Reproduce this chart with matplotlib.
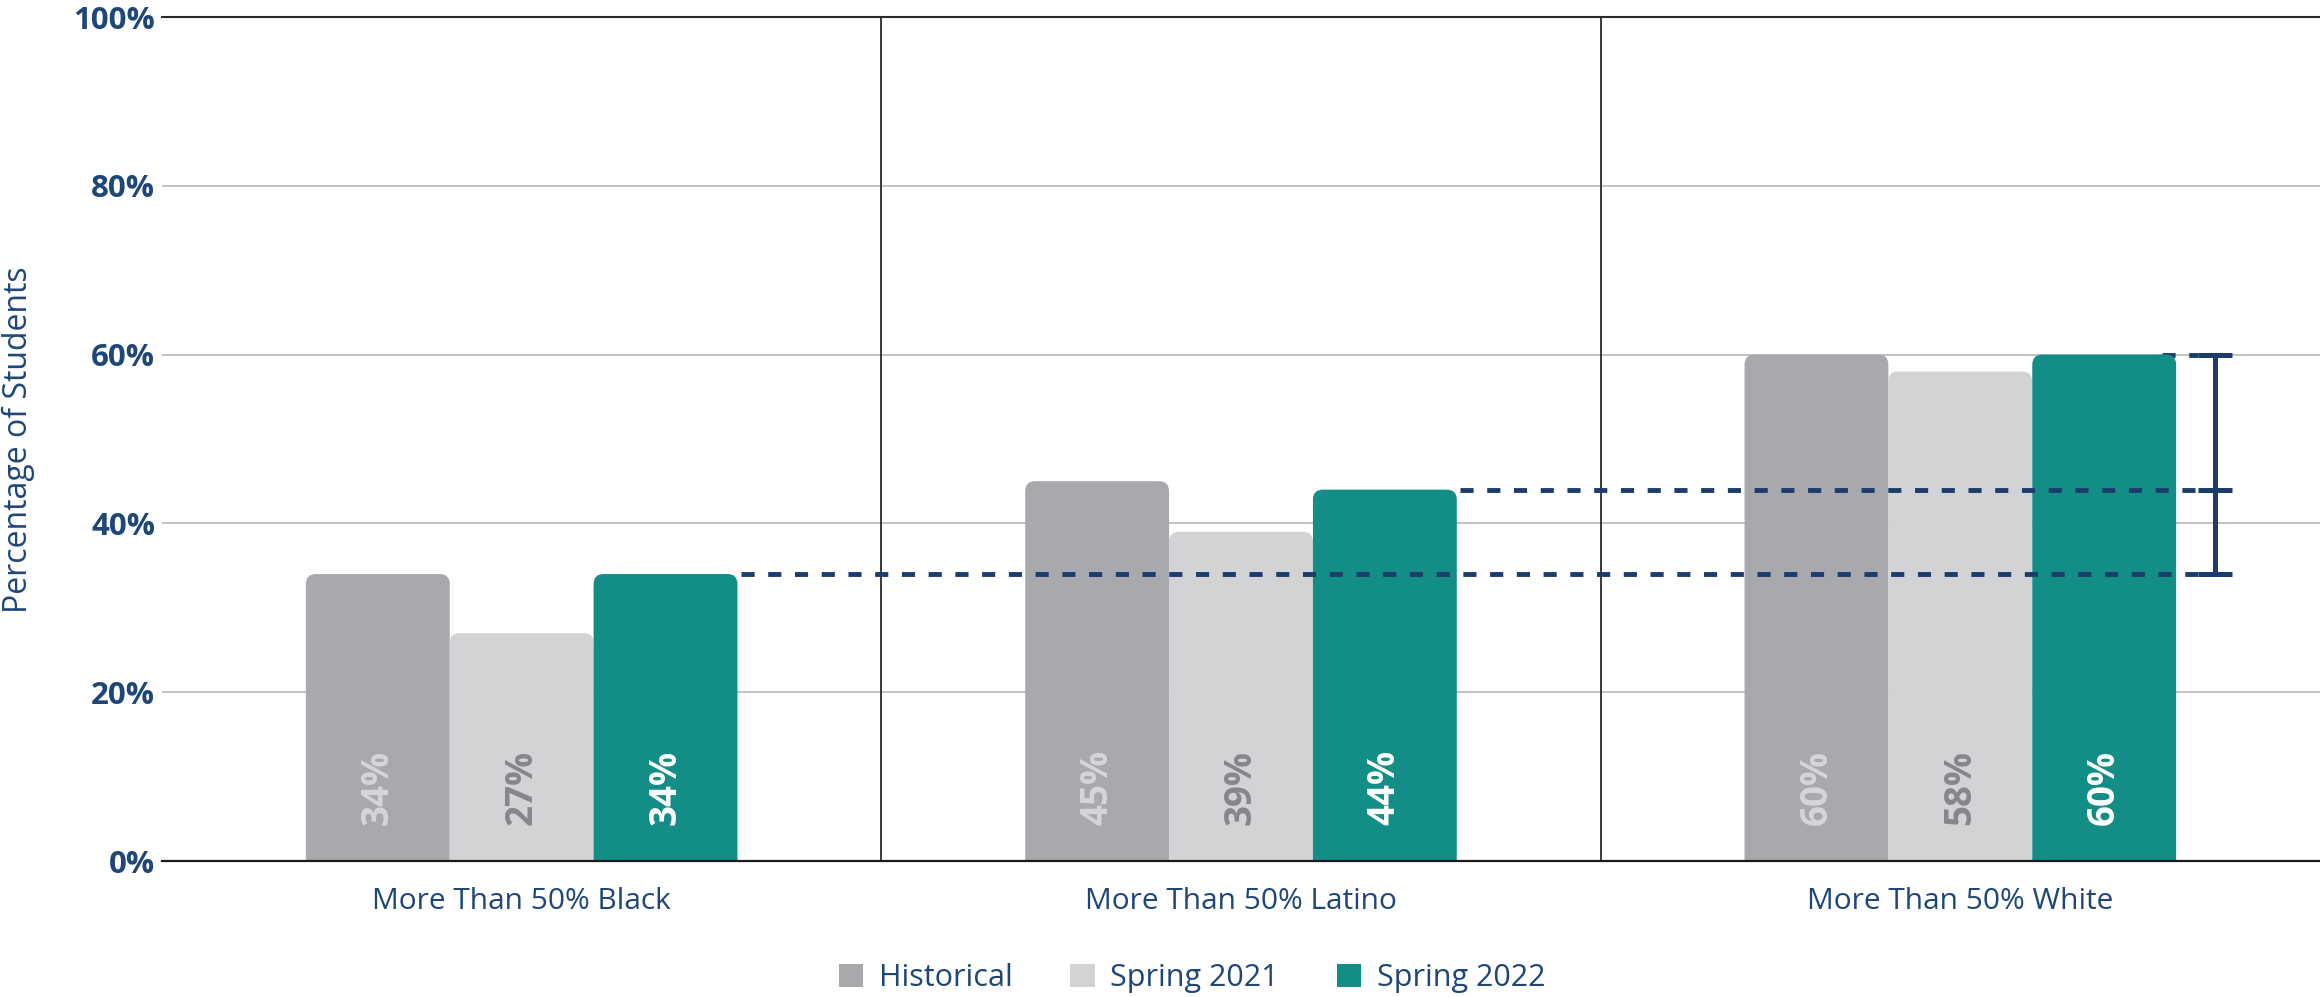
import matplotlib
matplotlib.use("Agg")
import matplotlib.pyplot as plt
from matplotlib.patches import FancyBboxPatch, Patch

plt.rcParams['font.family'] = ['Open Sans', 'DejaVu Sans']

categories = ["More Than 50% Black", "More Than 50% Latino", "More Than 50% White"]
series = ["Historical", "Spring 2021", "Spring 2022"]
historical = [34, 45, 60]
spring_2021 = [27, 39, 58]
spring_2022 = [34, 44, 60]
yticks = [0, 20, 40, 60, 80, 100]

colors = ["#A7A9AC", "#D1D3D4", "#128E87"]
label_colors = ["#D5D6D8", "#85878A", "#FFFFFF"]
navy = "#1E4677"
dash_navy = "#1C3C6C"

fig = plt.figure(figsize=(23.2, 9.97), dpi=100)
ax = fig.add_axes([162 / 2320, 136 / 997, 1 - 162 / 2320, 844 / 997])

ax.set_xlim(-0.5, 2.5)
ax.set_ylim(0, 100)

# px per data unit, used to keep the corner radius round
px_x = 2158 / 3
px_y = 844 / 100
r = 10 / px_x
aspect = (10 / px_y) / r

width = 0.2
offsets = [-0.2, 0.0, 0.2]
for vals, off, c, lc in zip([historical, spring_2021, spring_2022], offsets, colors, label_colors):
    for i, v in enumerate(vals):
        x0 = i + off - width / 2
        bar = FancyBboxPatch((x0, -5), width, v + 5,
                             boxstyle=f"round,pad=0,rounding_size={r}",
                             mutation_aspect=aspect, facecolor=c, edgecolor="none", zorder=3)
        ax.add_patch(bar)
        ax.text(i + off, 4.3, f"{v}%", rotation=90, ha="center", va="bottom",
                fontsize=26.5, fontweight="bold", color=lc, zorder=5)

# grid and frame lines
for y in yticks[1:-1]:
    ax.axhline(y, color="#BEBEBE", lw=1.3, zorder=1)
ax.axhline(100, color="#2A2A2A", lw=1.5, zorder=1, clip_on=False)
ax.axhline(0, color="#1A1A1A", lw=1.6, zorder=6, clip_on=False)
for xs in [0.5, 1.5]:
    ax.plot([xs, xs], [0, 100], color="#2A2A2A", lw=1.3, zorder=1, clip_on=False)

for s in ax.spines.values():
    s.set_visible(False)

# dashed comparison lines and bracket
cap_l, cap_r, cap_x = 2.330, 2.378, 2.354
dash_kw = dict(color=dash_navy, lw=3.5, dashes=(2.7, 2.8), solid_capstyle="butt")
ax.plot([0.3 + 0.005, cap_l], [spring_2022[0]] * 2, zorder=4, **dash_kw)
ax.plot([1.3 + 0.005, cap_l], [spring_2022[1]] * 2, zorder=4, **dash_kw)
ax.plot([2.28, cap_l], [spring_2022[2]] * 2, zorder=2, **dash_kw)
ax.plot([cap_x, cap_x], [spring_2022[0], spring_2022[2]], color=dash_navy, lw=3.6, zorder=4)
for y in [spring_2022[0], spring_2022[1], spring_2022[2]]:
    ax.plot([cap_l, cap_r], [y, y], color=dash_navy, lw=3.6, zorder=4, solid_capstyle="butt")

ax.set_yticks(yticks)
ax.set_yticklabels([f"{t}%" for t in yticks], fontsize=22.5, fontweight="bold", color=navy)
ax.set_xticks(range(len(categories)))
ax.set_xticklabels(categories, fontsize=21.5, color=navy)
ax.tick_params(axis="both", length=0)
ax.tick_params(axis="y", pad=5)
ax.tick_params(axis="x", pad=19)

fig.text(2 / 2320, 1 - 440 / 997, "Percentage of Students", rotation=90,
         ha="left", va="center", fontsize=23, color=navy)

handles = [Patch(facecolor=c, edgecolor="none") for c in colors]
leg = fig.legend(handles, series, loc="center", bbox_to_anchor=(1192 / 2320, 19 / 997),
                 ncol=3, frameon=False, fontsize=22, handlelength=0.8, handleheight=0.8,
                 handletextpad=0.5, columnspacing=1.9)
for t in leg.get_texts():
    t.set_color(navy)

fig.savefig("out.png", dpi=100)
